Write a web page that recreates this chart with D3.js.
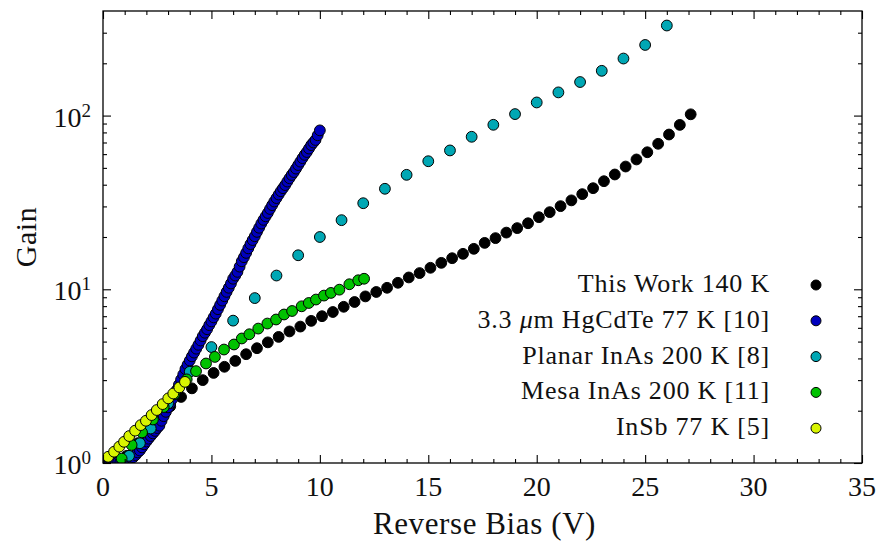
<!DOCTYPE html>
<html>
<head>
<meta charset="utf-8">
<script src="https://cdn.jsdelivr.net/npm/d3@7"></script>
<style>
  html, body { margin: 0; padding: 0; background: #fff; }
  svg { display: block; }
  text { font-family: "Liberation Serif", "Times New Roman", serif; fill: #111; }
</style>
</head>
<body>
<svg id="chart" width="878" height="544"></svg>
<script>
// ---------------- data ----------------
const thisWorkV = [1.1,1.6,2.1,2.6,3.1,3.6,4.1,4.6,5.1,5.6,6.1,6.6,7.1,7.6,8.1,8.6,9.1,9.6,10.1,10.6,11.1,11.6,12.1,12.6,13.1,13.6,14.1,14.6,15.1,15.6,16.1,16.6,17.1,17.6,18.1,18.6,19.1,19.6,20.1,20.6,21.1,21.6,22.1,22.6,23.1,23.6,24.1,24.6,25.1,25.6,26.1,26.6,27.1];
const thisWorkGain = [1.10,1.30,1.55,1.83,2.12,2.40,2.69,3.00,3.30,3.58,3.87,4.23,4.58,4.95,5.32,5.72,6.10,6.58,7.00,7.40,7.93,8.45,9.10,9.65,10.2,10.9,11.7,12.4,13.3,14.2,15.1,16.0,17.1,18.5,19.7,21.2,22.5,24.0,26.0,27.8,30.1,32.5,35.3,38.2,41.9,45.8,50.9,55.9,61.5,68.8,77.8,88.4,101.7];

const hgcdteV = [0.0,0.1,0.2,0.3,0.4,0.5,0.6,0.7,0.8,0.9,1.0,1.1,1.2,1.3,1.4,1.5,1.6,1.7,1.8,1.9,2.0,2.1,2.2,2.3,2.4,2.5,2.6,2.7,2.8,2.9,3.0,3.1,3.2,3.3,3.4,3.5,3.6,3.7,3.8,3.9,4.0,4.1,4.2,4.3,4.4,4.5,4.6,4.7,4.8,4.9,5.0,5.1,5.2,5.3,5.4,5.5,5.6,5.7,5.8,5.9,6.0,6.1,6.2,6.3,6.4,6.5,6.6,6.7,6.8,6.9,7.0,7.1,7.2,7.3,7.4,7.5,7.6,7.7,7.8,7.9,8.0,8.1,8.2,8.3,8.4,8.5,8.6,8.7,8.8,8.9,9.0,9.1,9.2,9.3,9.4,9.5,9.6,9.7,9.8,9.9,10.0];
const hgcdteGain = [1.00,1.00,1.00,1.00,1.00,1.00,1.01,1.01,1.01,1.02,1.02,1.03,1.05,1.07,1.08,1.11,1.15,1.18,1.23,1.28,1.33,1.38,1.43,1.48,1.53,1.59,1.64,1.75,1.86,1.97,2.09,2.21,2.34,2.48,2.63,2.82,3.02,3.23,3.47,3.68,3.89,4.11,4.32,4.55,4.79,5.07,5.37,5.62,5.89,6.22,6.53,6.89,7.24,7.68,8.13,8.61,9.12,9.66,10.2,10.8,11.5,12.0,12.6,13.5,14.5,15.3,16.2,17.2,18.2,19.2,20.2,21.4,22.6,23.9,25.1,26.3,27.5,29.0,30.5,32.0,33.5,35.1,36.7,38.2,39.8,41.7,43.6,45.5,47.3,49.5,51.9,54.3,56.9,59.4,61.7,64.6,67.6,70.0,72.4,77.0,82.2];

const planarV = [1.2,1.7,2.2,3,4,5,6,7,8,9,10,11,12,13,14,15,16,17,18,19,20,21,22,23,24,25,26];
const planarGain = [1.10,1.30,1.58,2.2,3.35,4.65,6.6,8.9,12.0,15.7,20.0,25.0,31.3,37.9,45.6,54.6,63.0,75.5,88.5,102,119,136,156,181,213,255,330];

const mesaV = [0.86,1.32,1.8,2.3,2.8,3.3,3.86,4.29,4.75,5.16,5.58,6.04,6.4,6.75,7.16,7.58,7.98,8.35,8.72,9.16,9.49,9.82,10.19,10.51,10.9,11.36,11.77,12.04];
const mesaGain = [1.06,1.27,1.5,1.78,2.1,2.5,3.03,3.38,3.74,4.08,4.5,4.81,5.21,5.51,5.94,6.35,6.7,7.16,7.5,7.98,8.34,8.73,9.2,9.53,9.95,10.69,11.27,11.5];

const insbV = [0.24,0.51,0.75,0.97,1.21,1.48,1.74,1.98,2.24,2.48,2.75,3.01,3.24,3.52,3.78];
const insbGain = [1.086,1.161,1.242,1.324,1.429,1.535,1.652,1.750,1.888,2.018,2.183,2.355,2.512,2.723,2.931];

const seriesNames = ["This Work 140 K", "3.3 \u03bcm HgCdTe 77 K [10]", "Planar InAs 200 K [8]", "Mesa InAs 200 K [11]", "InSb 77 K [5]"];
const seriesColors = ["#000000", "#0000be", "#00a7b4", "#00c200", "#d9f500"];

const xTickValues = [0, 5, 10, 15, 20, 25, 30, 35];
const xTickLabels = ["0", "5", "10", "15", "20", "25", "30", "35"];
const yTickValues = [1, 10, 100];
const yTickExponents = ["0", "1", "2"];
const xLabel = "Reverse Bias (V)";
const yLabel = "Gain";

// ---------------- layout ----------------
const svg = d3.select("#chart");
const L = 103, R = 862, T = 11, B = 463;
const x = d3.scaleLinear().domain([0, 35]).range([L, R]);
const y = d3.scaleLog().domain([1, 400]).range([B, T]);

const series = [
  {V: thisWorkV, G: thisWorkGain},
  {V: hgcdteV, G: hgcdteGain},
  {V: planarV, G: planarGain},
  {V: mesaV, G: mesaGain},
  {V: insbV, G: insbGain}
].map((s, i) => ({name: seriesNames[i], color: seriesColors[i], pts: s.V.map((v, j) => [v, s.G[j]])}));

svg.append("defs").append("clipPath").attr("id", "plotclip")
  .append("rect").attr("x", L).attr("y", T).attr("width", R - L).attr("height", B - T);

// points
const plot = svg.append("g").attr("clip-path", "url(#plotclip)");
series.forEach(s => {
  plot.append("g").selectAll("circle").data(s.pts).join("circle")
    .attr("cx", d => x(d[0]))
    .attr("cy", d => y(d[1]))
    .attr("r", 5.4)
    .attr("fill", s.color)
    .attr("stroke", "#000")
    .attr("stroke-width", 1);
});

// ticks (inward on all sides)
const xMinor = d3.range(0, 36, 1).filter(v => v % 5 !== 0);
const yMinor = [];
[1, 10, 100].forEach(dec => { for (let k = 2; k <= 9; k++) { if (dec * k < 400) yMinor.push(dec * k); } });

function styleAxis(g) {
  g.select(".domain").remove();
  g.selectAll(".tick line").attr("stroke", "#000").attr("stroke-width", 1.1);
  g.selectAll(".tick text").remove();
}
svg.append("g").attr("transform", `translate(0,${B})`).call(d3.axisBottom(x).tickValues(xTickValues).tickSize(-8).tickFormat("")).call(styleAxis);
svg.append("g").attr("transform", `translate(0,${B})`).call(d3.axisBottom(x).tickValues(xMinor).tickSize(-4).tickFormat("")).call(styleAxis);
svg.append("g").attr("transform", `translate(0,${T})`).call(d3.axisTop(x).tickValues(xTickValues).tickSize(-8).tickFormat("")).call(styleAxis);
svg.append("g").attr("transform", `translate(0,${T})`).call(d3.axisTop(x).tickValues(xMinor).tickSize(-4).tickFormat("")).call(styleAxis);
svg.append("g").attr("transform", `translate(${L},0)`).call(d3.axisLeft(y).tickValues(yTickValues).tickSize(-8).tickFormat("")).call(styleAxis);
svg.append("g").attr("transform", `translate(${L},0)`).call(d3.axisLeft(y).tickValues(yMinor).tickSize(-4).tickFormat("")).call(styleAxis);
svg.append("g").attr("transform", `translate(${R},0)`).call(d3.axisRight(y).tickValues(yTickValues).tickSize(-8).tickFormat("")).call(styleAxis);
svg.append("g").attr("transform", `translate(${R},0)`).call(d3.axisRight(y).tickValues(yMinor).tickSize(-4).tickFormat("")).call(styleAxis);

// frame
svg.append("rect").attr("x", L).attr("y", T).attr("width", R - L).attr("height", B - T)
  .attr("fill", "none").attr("stroke", "#000").attr("stroke-width", 1.3);

// tick labels
svg.append("g").selectAll("text").data(xTickValues).join("text")
  .attr("x", d => x(d)).attr("y", 496)
  .attr("text-anchor", "middle").attr("font-size", 28)
  .text((d, i) => xTickLabels[i]);

const yl = svg.append("g").selectAll("text").data(yTickValues).join("text")
  .attr("x", 91).attr("y", d => y(d) + 11)
  .attr("text-anchor", "end").attr("font-size", 28);
yl.append("tspan").text("10");
yl.append("tspan").attr("dy", -10).attr("font-size", 19).text((d, i) => yTickExponents[i]);

// axis labels
svg.append("text").attr("x", (L + R) / 2 + 2).attr("y", 534)
  .attr("text-anchor", "middle").attr("font-size", 31).attr("letter-spacing", 0.6).text(xLabel);
svg.append("text").attr("transform", `translate(36,${(T + B) / 2}) rotate(-90)`)
  .attr("text-anchor", "middle").attr("font-size", 30).attr("letter-spacing", 0.5).text(yLabel);

// legend (markers after labels)
const legY0 = 292, legDy = 35.8;
series.forEach((s, i) => {
  const by = legY0 + i * legDy;
  const t = svg.append("text").attr("x", 770).attr("y", by).attr("text-anchor", "end")
    .attr("font-size", 26).attr("letter-spacing", 0.8);
  if (i === 1) {
    t.append("tspan").text("3.3 ");
    t.append("tspan").attr("font-style", "italic").text("\u03bc");
    t.append("tspan").text("m HgCdTe 77 K [10]");
  } else {
    t.text(s.name);
  }
  svg.append("circle").attr("cx", 816).attr("cy", by - 7).attr("r", 5)
    .attr("fill", s.color).attr("stroke", "#000").attr("stroke-width", 1);
});
</script>
</body>
</html>
